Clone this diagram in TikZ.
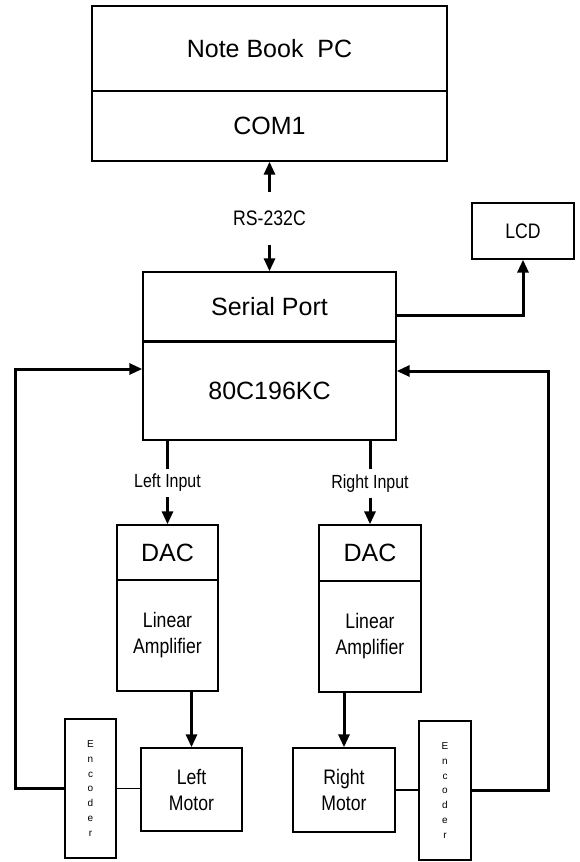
\documentclass[tikz,border=0pt]{standalone}
\usepackage{fontspec}
\setmainfont{Liberation Sans}
\newfontfamily\narrowsans[FakeStretch=0.84]{Liberation Sans}
\usetikzlibrary{arrows.meta, positioning, calc}
\newcommand{\bigtext}{\fontsize{25}{29}\selectfont}
\newcommand{\midtext}{\narrowsans\fontsize{21}{25}\selectfont}
\newcommand{\amptext}{\narrowsans\fontsize{21}{26}\selectfont}
\newcommand{\smalltext}{\narrowsans\fontsize{19}{22}\selectfont}
\newcommand{\enctext}{\fontsize{10}{14.8}\selectfont}
\tikzset{
  blk/.style={draw, rectangle, line width=1.4pt, inner sep=0pt, align=center},
  sig/.style={line width=3pt, -{Triangle[length=13pt,width=11pt]}},
  wire/.style={line width=3pt},
  link/.style={line width=1.4pt},
}

\begin{document}
\begin{tikzpicture}[x=1pt, y=-1pt]

  \useasboundingbox (0,0) rectangle (579,862);
  \fill[white] (0,0) rectangle (579,862);

  %% PC: 92-447, 6-91 / 91-161
  \node[blk, minimum width=355pt, minimum height=85pt, font=\bigtext] (pc) at (269.5,48.5) {Note Book\ \ PC};
  \node[blk, minimum width=355pt, minimum height=70pt, font=\bigtext] (com) at (269.5,126) {COM1};

  %% link label between PC and board
  \node[font=\midtext, minimum height=53pt, inner sep=0pt] (rs) at (269.5,218.5) {RS-232C};

  %% board: 143-396, 272-341 / 341-440
  \node[blk, minimum width=253pt, minimum height=69pt, font=\bigtext] (sp) at (269.5,306.5) {Serial Port};
  \node[blk, minimum width=253pt, minimum height=99pt, font=\bigtext] (mcu) at (269.5,390.5) {80C196KC};
  \draw[line width=2.4pt] (sp.south west) -- (sp.south east);

  %% LCD
  \node[blk, minimum width=102pt, minimum height=56pt, font=\midtext] (lcd) at (523,231) {LCD};

  %% Left drive
  \node[font=\smalltext, minimum height=28pt, inner sep=0pt] (lin) at (167.5,483) {Left Input};
  \node[blk, minimum width=101pt, minimum height=55pt, font=\bigtext] (dacl) at (167.5,552.5) {DAC};
  \node[blk, minimum width=101pt, minimum height=111pt, font=\amptext] (ampl) at (167.5,635.5) {Linear\\Amplifier};
  \node[blk, minimum width=101pt, minimum height=83pt, font=\amptext] (motl) at (191.5,789.5) {Left\\Motor};
  \node[blk, minimum width=51pt, minimum height=139pt, font=\enctext] (encl) at (90.5,788.5) {E\\n\\c\\o\\d\\e\\r};

  %% Right drive
  \node[font=\smalltext, minimum height=28pt, inner sep=0pt] (rin) at (370,483.5) {Right Input};
  \node[blk, minimum width=102pt, minimum height=56pt, font=\bigtext] (dacr) at (370,553) {DAC};
  \node[blk, minimum width=102pt, minimum height=111pt, font=\amptext] (ampr) at (370,636.5) {Linear\\Amplifier};
  \node[blk, minimum width=102pt, minimum height=84pt, font=\amptext] (motr) at (344,790) {Right\\Motor};
  \node[blk, minimum width=52pt, minimum height=139pt, font=\enctext] (encr) at (445,790.5) {E\\n\\c\\o\\d\\e\\r};

  %% feedback corners
  \coordinate (fbl) at (15,369);
  \coordinate (fbr) at (548,371);

  %% connections
  \draw[sig] (rs.north) -- (com.south);
  \draw[sig] (rs.south) -- (sp.north);
  \draw[sig] ([yshift=-8.5pt]sp.east) -| (lcd.south);

  \draw[wire] (mcu.south -| lin) -- (lin.north);
  \draw[sig] (lin.south) -- (dacl.north);
  \draw[wire] (mcu.south -| rin) -- (rin.north);
  \draw[sig] (rin.south) -- (dacr.north);

  \draw[sig] (ampl.south -| motl.north) -- (motl.north);
  \draw[sig] (ampr.south -| motr.north) -- (motr.north);

  \draw[link] (encl.east) -- (encl.east -| motl.west);
  \draw[link] (motr.east) -- (motr.east -| encr.west);

  \draw[sig] (encl.west) -| (fbl) -- (fbl -| mcu.west);
  \draw[sig] (encr.east) -| (fbr) -- (fbr -| mcu.east);

\end{tikzpicture}
\end{document}
